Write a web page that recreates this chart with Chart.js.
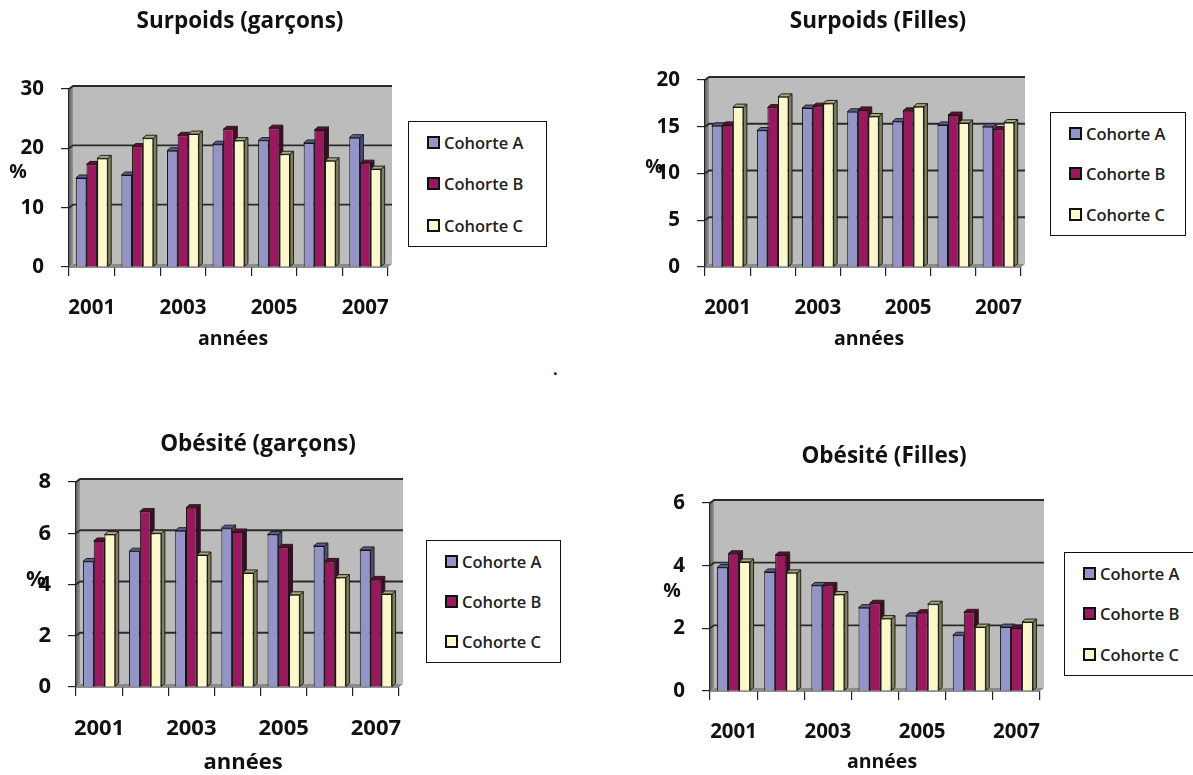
<!DOCTYPE html>
<html lang="fr">
<head>
<meta charset="utf-8">
<title>Surpoids et obésité</title>
<script src="https://cdn.jsdelivr.net/npm/chart.js@4/dist/chart.umd.min.js"></script>
<style>
  html, body { margin: 0; padding: 0; background: #fff; }
  body { position: relative; width: 1193px; height: 775px; overflow: hidden; font-family: "Open Sans", sans-serif; color: #111; }
  canvas { position: absolute; }
  .legend { position: absolute; box-sizing: border-box; border: 1.5px solid #111; background: #fff;
            display: flex; flex-direction: column; justify-content: space-around; padding-left: 18px;
            font-size: 16.5px; font-weight: 600; color: #222; }
  .legend div { display: flex; align-items: center; }
  .legend i { display: block; box-sizing: border-box; width: 13px; height: 13px; border: 2px solid #111; margin-right: 4px; }
  .dot { position: absolute; left: 553px; top: 358px; font-size: 16px; font-weight: 700; }
</style>
</head>
<body>
<span class="dot">.</span>
<script>
const years = ['2001', '2002', '2003', '2004', '2005', '2006', '2007'];
const cohortNames = ['Cohorte A', 'Cohorte B', 'Cohorte C'];
const frontColors = ['#9494c8', '#99195e', '#fbf9cc'];
const sideColors = ['#4c4c80', '#4d0030', '#7d7d60'];
const topColors = ['#5c5c98', '#66082f', '#a8a880'];

const surpoidsGarconsA = [15.0, 15.5, 19.6, 20.7, 21.3, 20.9, 21.8];
const surpoidsGarconsB = [17.3, 20.3, 22.2, 23.2, 23.4, 23.1, 17.5];
const surpoidsGarconsC = [18.3, 21.7, 22.4, 21.3, 19.0, 17.9, 16.5];

const surpoidsFillesA = [15.1, 14.6, 17.0, 16.6, 15.55, 15.2, 15.0];
const surpoidsFillesB = [15.2, 17.05, 17.2, 16.8, 16.7, 16.25, 14.7];
const surpoidsFillesC = [17.1, 18.2, 17.5, 16.1, 17.15, 15.4, 15.45];

const obesiteGarconsA = [4.9, 5.3, 6.1, 6.2, 5.95, 5.5, 5.35];
const obesiteGarconsB = [5.7, 6.85, 7.0, 6.05, 5.45, 4.9, 4.2];
const obesiteGarconsC = [5.95, 6.0, 5.15, 4.45, 3.6, 4.27, 3.63];

const obesiteFillesA = [3.94, 3.8, 3.37, 2.66, 2.4, 1.78, 2.04];
const obesiteFillesB = [4.38, 4.34, 3.37, 2.8, 2.5, 2.51, 2.01];
const obesiteFillesC = [4.12, 3.77, 3.08, 2.31, 2.77, 2.04, 2.2];

// positions are page pixels, ox/oy is where the canvas sits
const panels = [
  { title: 'Surpoids (garçons)', series: [surpoidsGarconsA, surpoidsGarconsB, surpoidsGarconsC], max: 30, step: 10,
    ox: 0, oy: 0, w: 596, h: 388, left: 69, right: 388, top: 89, bottom: 267, tickSize: 20.5, nameSize: 19.5,
    titleAt: [240, 22], pctAt: [18, 172], xNameAt: [233, 339], legend: [408, 121, 139, 126] },
  { title: 'Surpoids (Filles)', series: [surpoidsFillesA, surpoidsFillesB, surpoidsFillesC], max: 20, step: 5,
    ox: 596, oy: 0, w: 597, h: 388, left: 705, right: 1021, top: 80, bottom: 267, tickSize: 20.5, nameSize: 19.5,
    titleAt: [878, 22], pctAt: [654, 167], xNameAt: [869, 339], legend: [1050, 112, 136, 124] },
  { title: 'Obésité (garçons)', series: [obesiteGarconsA, obesiteGarconsB, obesiteGarconsC], max: 8, step: 2,
    ox: 0, oy: 388, w: 596, h: 387, left: 76, right: 399, top: 482, bottom: 687, tickSize: 22, nameSize: 22,
    titleAt: [258, 445], pctAt: [36, 580], xNameAt: [243, 763], legend: [426, 540, 135, 123] },
  { title: 'Obésité (Filles)', series: [obesiteFillesA, obesiteFillesB, obesiteFillesC], max: 6, step: 2,
    ox: 596, oy: 388, w: 597, h: 387, left: 710, right: 1040, top: 503, bottom: 691, tickSize: 20.5, nameSize: 19.5,
    titleAt: [884, 457], pctAt: [672, 591], xNameAt: [882, 762], legend: [1064, 552, 140, 124] }
];

function poly(ctx, pts, fill, stroke) {
  ctx.beginPath();
  pts.forEach((p, i) => i ? ctx.lineTo(p[0], p[1]) : ctx.moveTo(p[0], p[1]));
  ctx.closePath();
  ctx.fillStyle = fill;
  ctx.fill();
  if (stroke) {
    ctx.lineWidth = 1;
    ctx.strokeStyle = stroke;
    ctx.stroke();
  }
}

const wallPlugin = {
  id: 'wall',
  // back wall, side wall, floor and the gridlines on the wall
  beforeDatasetsDraw(chart) {
    const { ctx, chartArea: a, scales } = chart;
    const dx = 4, dy = 3;
    ctx.save();
    poly(ctx, [[a.left + dx, a.top - dy], [a.right + dx, a.top - dy], [a.right + dx, a.bottom - dy], [a.left + dx, a.bottom - dy]], '#bcbcbc');
    const g = ctx.createLinearGradient(a.left, 0, a.left + dx + 2, 0);
    g.addColorStop(0, '#5e5e5e');
    g.addColorStop(1, '#b4b4b4');
    poly(ctx, [[a.left, a.top], [a.left + dx, a.top - dy], [a.left + dx, a.bottom - dy], [a.left, a.bottom]], g);
    poly(ctx, [[a.left, a.bottom], [a.left + dx, a.bottom - dy], [a.right + dx, a.bottom - dy], [a.right, a.bottom]], '#8a8a8a');
    ctx.strokeStyle = '#2a2a2a';
    ctx.lineWidth = 1.8;
    scales.y.ticks.forEach(t => {
      if (t.value === 0) return;
      const y = scales.y.getPixelForValue(t.value);
      ctx.beginPath();
      ctx.moveTo(a.left, y);
      ctx.lineTo(a.left + dx, y - dy);
      ctx.lineTo(a.right + dx, y - dy);
      ctx.stroke();
    });
    ctx.restore();
  },
  // the library paints the last dataset first, here A has to go first
  beforeDatasetDraw() {
    return false;
  },
  afterDatasetsDraw(chart) {
    const ctx = chart.ctx;
    const dx = 3.5, dy = 3;
    ctx.save();
    chart.data.datasets.forEach((ds, i) => {
      chart.getDatasetMeta(i).data.forEach(el => {
        const { x, y, base, width } = el.getProps(['x', 'y', 'base', 'width']);
        const l = x - width / 2, r = x + width / 2;
        poly(ctx, [[r, y], [r + dx, y - dy], [r + dx, base - dy], [r, base]], sideColors[i], '#222218');
        poly(ctx, [[l, y], [l + dx, y - dy], [r + dx, y - dy], [r, y]], topColors[i], '#222218');
        el.draw(ctx);
      });
    });
    ctx.restore();
  }
};

const labelPlugin = {
  id: 'labels',
  afterDraw(chart) {
    const { ctx } = chart;
    const p = chart.options.plugins.labels.panel;
    ctx.save();
    ctx.textAlign = 'center';
    ctx.textBaseline = 'middle';
    ctx.fillStyle = '#111';
    ctx.font = '700 22.5px "Open Sans"';
    ctx.fillText(p.title, p.titleAt[0] - p.ox, p.titleAt[1] - p.oy);
    ctx.font = '700 ' + p.nameSize + 'px "Open Sans"';
    ctx.fillText('années', p.xNameAt[0] - p.ox, p.xNameAt[1] - p.oy);
    ctx.fillText('%', p.pctAt[0] - p.ox, p.pctAt[1] - p.oy);
    ctx.restore();
  }
};

panels.forEach(p => {
  const canvas = document.createElement('canvas');
  canvas.width = p.w;
  canvas.height = p.h;
  canvas.style.left = p.ox + 'px';
  canvas.style.top = p.oy + 'px';
  document.body.appendChild(canvas);

  const tickFont = { family: 'Open Sans', size: p.tickSize, weight: '700' };

  new Chart(canvas.getContext('2d'), {
    type: 'bar',
    data: {
      labels: years,
      datasets: p.series.map((values, i) => ({
        label: cohortNames[i],
        data: values,
        backgroundColor: frontColors[i],
        borderColor: '#141414',
        borderWidth: 1,
        categoryPercentage: 0.7,
        barPercentage: 1
      }))
    },
    options: {
      responsive: false,
      animation: false,
      events: [],
      layout: { padding: { left: 0, bottom: 0, top: p.top - p.oy, right: p.w - (p.right - p.ox) } },
      plugins: {
        legend: { display: false },
        tooltip: { enabled: false },
        labels: { panel: p }
      },
      scales: {
        x: {
          afterFit: s => { s.height = p.h - (p.bottom - p.oy); },
          grid: { offset: true, drawOnChartArea: false, color: '#222', tickLength: 9, lineWidth: 1.2 },
          border: { color: '#222', width: 1.5 },
          ticks: {
            autoSkip: false,
            maxRotation: 0,
            padding: 20,
            color: '#111',
            font: tickFont,
            callback: (v, i) => (i % 2 === 0 ? years[i] : '')
          }
        },
        y: {
          min: 0,
          max: p.max,
          afterFit: s => { s.width = p.left - p.ox; },
          grid: { drawOnChartArea: false, color: '#222', tickLength: 8, lineWidth: 1.2 },
          border: { color: '#222', width: 1.5 },
          ticks: { stepSize: p.step, padding: 17, color: '#111', font: tickFont }
        }
      }
    },
    plugins: [wallPlugin, labelPlugin]
  });

  const box = document.createElement('div');
  box.className = 'legend';
  box.style.left = p.legend[0] + 'px';
  box.style.top = p.legend[1] + 'px';
  box.style.width = p.legend[2] + 'px';
  box.style.height = p.legend[3] + 'px';
  cohortNames.forEach((name, i) => {
    const row = document.createElement('div');
    const swatch = document.createElement('i');
    swatch.style.background = frontColors[i];
    row.appendChild(swatch);
    row.appendChild(document.createTextNode(name));
    box.appendChild(row);
  });
  document.body.appendChild(box);
});
</script>
</body>
</html>
